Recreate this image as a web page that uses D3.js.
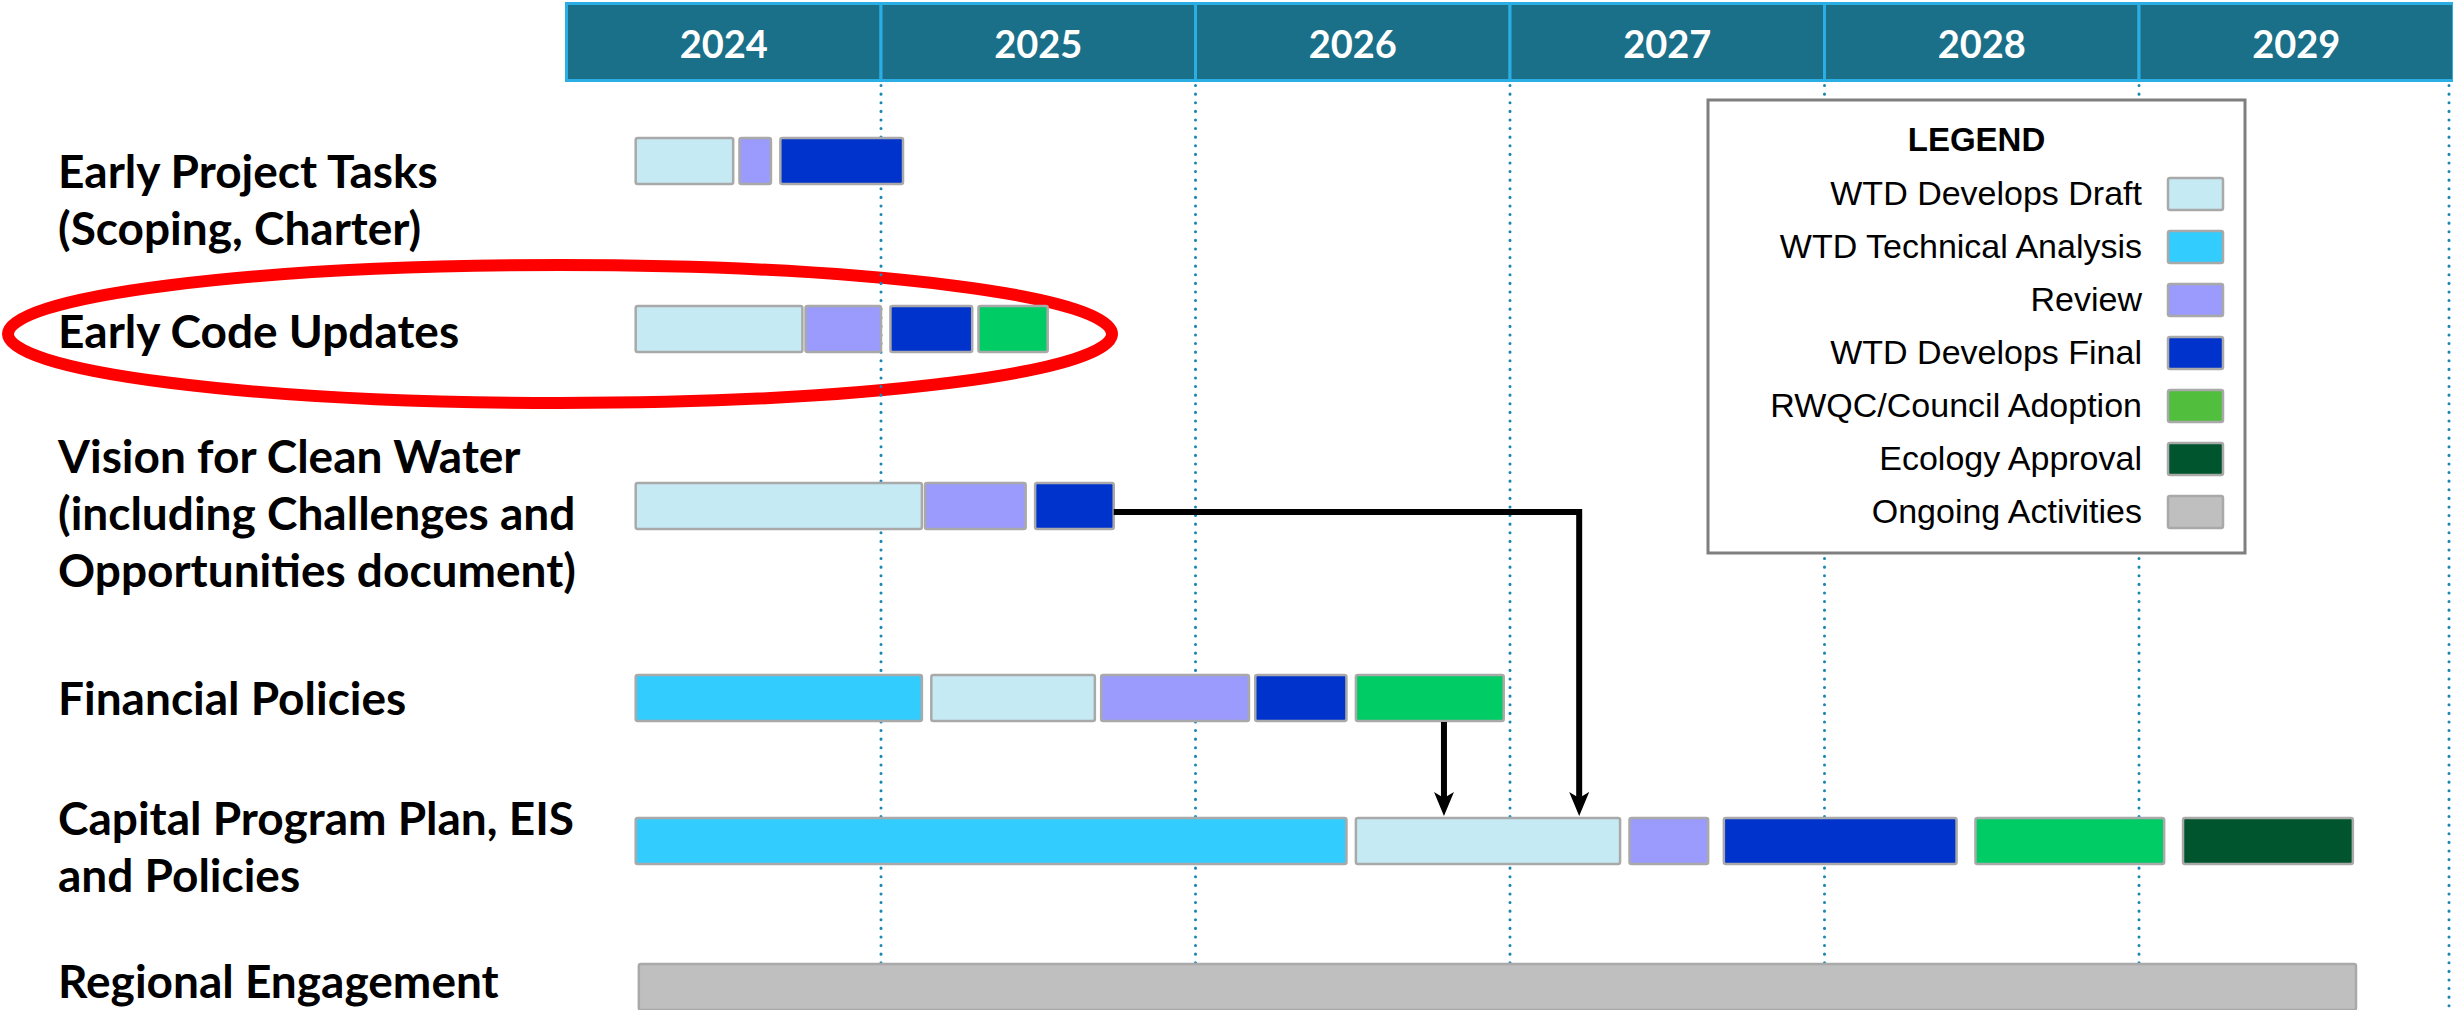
<!DOCTYPE html>
<html>
<head>
<meta charset="utf-8">
<script src="https://cdn.jsdelivr.net/npm/d3@7"></script>
<style>
  body { margin: 0; background: #fff; }
  svg { display: block; }
</style>
</head>
<body>
<svg id="chart"></svg>
<script>
// ---- data ----
const years = [2024, 2025, 2026, 2027, 2028, 2029];

const rowNames = ["ept", "ecu", "vision", "financial", "capital", "regional"];
const rowLabels = [
  ["Early Project Tasks", "(Scoping, Charter)"],
  ["Early Code Updates"],
  ["Vision for Clean Water", "(including Challenges and", "Opportunities document)"],
  ["Financial Policies"],
  ["Capital Program Plan, EIS", "and Policies"],
  ["Regional Engagement"]
];

const phaseKeys = ["draft", "tech", "review", "final", "adopt", "ecology", "ongoing"];
const phaseNames = ["WTD Develops Draft", "WTD Technical Analysis", "Review", "WTD Develops Final",
                    "RWQC/Council Adoption", "Ecology Approval", "Ongoing Activities"];
const barColors = ["#c5eaf4", "#33ccff", "#9b9bfd", "#0033cc", "#00cc66", "#00552e", "#bfbfbf"];
const legendColors = ["#c5eaf4", "#33ccff", "#9b9bfd", "#0033cc", "#52be3e", "#00552e", "#bfbfbf"];

// [row, phase, start, end] in decimal years
const segments = [
  ["ept", "draft", 2024.22, 2024.53], ["ept", "review", 2024.55, 2024.65], ["ept", "final", 2024.68, 2025.07],
  ["ecu", "draft", 2024.22, 2024.75], ["ecu", "review", 2024.76, 2025.00], ["ecu", "final", 2025.03, 2025.29],
  ["ecu", "adopt", 2025.31, 2025.53],
  ["vision", "draft", 2024.22, 2025.13], ["vision", "review", 2025.14, 2025.46], ["vision", "final", 2025.49, 2025.74],
  ["financial", "tech", 2024.22, 2025.13], ["financial", "draft", 2025.16, 2025.68], ["financial", "review", 2025.70, 2026.17],
  ["financial", "final", 2026.19, 2026.48], ["financial", "adopt", 2026.51, 2026.98],
  ["capital", "tech", 2024.22, 2026.48], ["capital", "draft", 2026.51, 2027.35], ["capital", "review", 2027.38, 2027.63],
  ["capital", "final", 2027.68, 2028.42], ["capital", "adopt", 2028.48, 2029.08], ["capital", "ecology", 2029.14, 2029.68],
  ["regional", "ongoing", 2024.23, 2029.69]
];

// dependency arrows: [from row, from year, to row, arrow year]
const links = [
  ["vision", 2025.74, "capital", 2027.22],
  ["financial", 2026.79, "capital", 2026.79]
];

class Gantt {

  constructor(_config) {
    this.config = {
      parentElement: _config.parentElement,
      width: _config.width || 2453,
      height: _config.height || 1010,
      xRange: [566.5, 2453.5],
      rowY: [161, 329, 506, 698, 841, 987],
      barHeight: 46,
      labelX: 58,
      labelBaseline: [188, 348, 473, 715, 835, 998],
      lineHeight: 57,
      headerTop: 3.5,
      headerHeight: 77
    };
    this.initVis();
  }

  initVis() {
    let vis = this;
    const c = vis.config;

    vis.svg = d3.select(c.parentElement)
        .attr('width', c.width)
        .attr('height', c.height);

    vis.x = d3.scaleLinear().domain([2024, 2030]).range(c.xRange);
    vis.y = d3.scaleOrdinal().domain(rowNames).range(c.rowY);
    vis.color = d3.scaleOrdinal().domain(phaseKeys).range(barColors);

    const defs = vis.svg.append('defs');
    defs.append('marker')
        .attr('id', 'arrow')
        .attr('viewBox', '0 -10 24 20')
        .attr('refX', 6).attr('refY', 0)
        .attr('markerWidth', 24).attr('markerHeight', 20)
        .attr('markerUnits', 'userSpaceOnUse')
        .attr('orient', 'auto')
      .append('path')
        .attr('d', 'M0,-10L24,0L0,10L6,0Z')
        .attr('fill', '#000');

    // red highlight ring around "Early Code Updates"
    vis.svg.append('ellipse')
        .attr('cx', 560).attr('cy', 334)
        .attr('rx', 552).attr('ry', 69)
        .attr('fill', 'none')
        .attr('stroke', '#ff0000')
        .attr('stroke-width', 12);

    vis.updateVis();
  }

  updateVis() {
    let vis = this;
    vis.renderVis();
  }

  renderVis() {
    let vis = this;
    const c = vis.config;

    // dotted year dividers
    vis.svg.append('g')
      .selectAll('line')
      .data(years.map(d => d + 1))
      .join('line')
        .attr('x1', d => Math.min(vis.x(d), c.width - 4))
        .attr('x2', d => Math.min(vis.x(d), c.width - 4))
        .attr('y1', c.headerTop + c.headerHeight + 5)
        .attr('y2', c.height)
        .attr('stroke', '#1a86b4')
        .attr('stroke-width', 3)
        .attr('stroke-linecap', 'round')
        .attr('stroke-dasharray', '0.1 8.5');

    // year header
    const head = vis.svg.append('g').selectAll('g')
      .data(years)
      .join('g');
    head.append('rect')
        .attr('x', d => vis.x(d))
        .attr('y', c.headerTop)
        .attr('width', d => vis.x(d + 1) - vis.x(d))
        .attr('height', c.headerHeight)
        .attr('fill', '#1b7089')
        .attr('stroke', '#2aaee3')
        .attr('stroke-width', 3);
    head.append('text')
        .attr('x', d => (vis.x(d) + vis.x(d + 1)) / 2)
        .attr('y', 58)
        .attr('text-anchor', 'middle')
        .attr('fill', '#fff')
        .style('font', 'bold 38px Lato, sans-serif')
        .text(d => d);

    // task bars
    vis.svg.append('g')
      .selectAll('rect')
      .data(segments)
      .join('rect')
        .attr('x', d => vis.x(d[2]))
        .attr('y', d => vis.y(d[0]) - c.barHeight / 2)
        .attr('width', d => vis.x(d[3]) - vis.x(d[2]))
        .attr('height', c.barHeight)
        .attr('rx', 2)
        .attr('fill', d => vis.color(d[1]))
        .attr('stroke', '#a9a9a9')
        .attr('stroke-width', 2.5);

    // dependency arrows
    vis.svg.append('g')
      .selectAll('path')
      .data(links)
      .join('path')
        .attr('d', d => {
          const x0 = vis.x(d[1]), x1 = vis.x(d[3]);
          const y0 = d[1] === d[3] ? vis.y(d[0]) + c.barHeight / 2 + 1 : vis.y(d[0]) + 6;
          const yEnd = vis.y(d[2]) - c.barHeight / 2 - 20;
          return `M${x0},${y0}H${x1}V${yEnd}`;
        })
        .attr('fill', 'none')
        .attr('stroke', '#000')
        .attr('stroke-width', 6)
        .attr('marker-end', 'url(#arrow)');

    // row labels
    const labels = vis.svg.append('g')
      .selectAll('text')
      .data(rowLabels)
      .join('text')
        .attr('x', c.labelX)
        .attr('y', (d, i) => c.labelBaseline[i])
        .attr('fill', '#000')
        .style('font', 'bold 46px Lato, sans-serif');
    labels.selectAll('tspan')
      .data(d => d)
      .join('tspan')
        .attr('x', c.labelX)
        .attr('dy', (d, i) => i === 0 ? 0 : c.lineHeight)
        .text(d => d);

    vis.renderLegend();
  }

  renderLegend() {
    let vis = this;
    const lg = vis.svg.append('g');
    const box = {x: 1708, y: 100, w: 537, h: 453};
    const yItem = d3.scalePoint().domain(phaseKeys).range([205, 523]);

    lg.append('rect')
        .attr('x', box.x).attr('y', box.y)
        .attr('width', box.w).attr('height', box.h)
        .attr('fill', '#fff')
        .attr('stroke', '#7f7f7f')
        .attr('stroke-width', 3);

    lg.append('text')
        .attr('x', box.x + box.w / 2)
        .attr('y', 151)
        .attr('text-anchor', 'middle')
        .style('font', 'bold 33px "Liberation Sans", Arial, sans-serif')
        .text('LEGEND');

    const item = lg.selectAll('g.item')
      .data(phaseKeys)
      .join('g')
        .attr('class', 'item');
    item.append('text')
        .attr('x', 2142)
        .attr('y', d => yItem(d))
        .attr('text-anchor', 'end')
        .style('font', '34px "Liberation Sans", Arial, sans-serif')
        .text((d, i) => phaseNames[i]);
    item.append('rect')
        .attr('x', 2168)
        .attr('y', d => yItem(d) - 27)
        .attr('width', 55)
        .attr('height', 32)
        .attr('rx', 2)
        .attr('fill', (d, i) => legendColors[i])
        .attr('stroke', '#a9a9a9')
        .attr('stroke-width', 2.5);
  }
}

new Gantt({ parentElement: '#chart' });
</script>
</body>
</html>
